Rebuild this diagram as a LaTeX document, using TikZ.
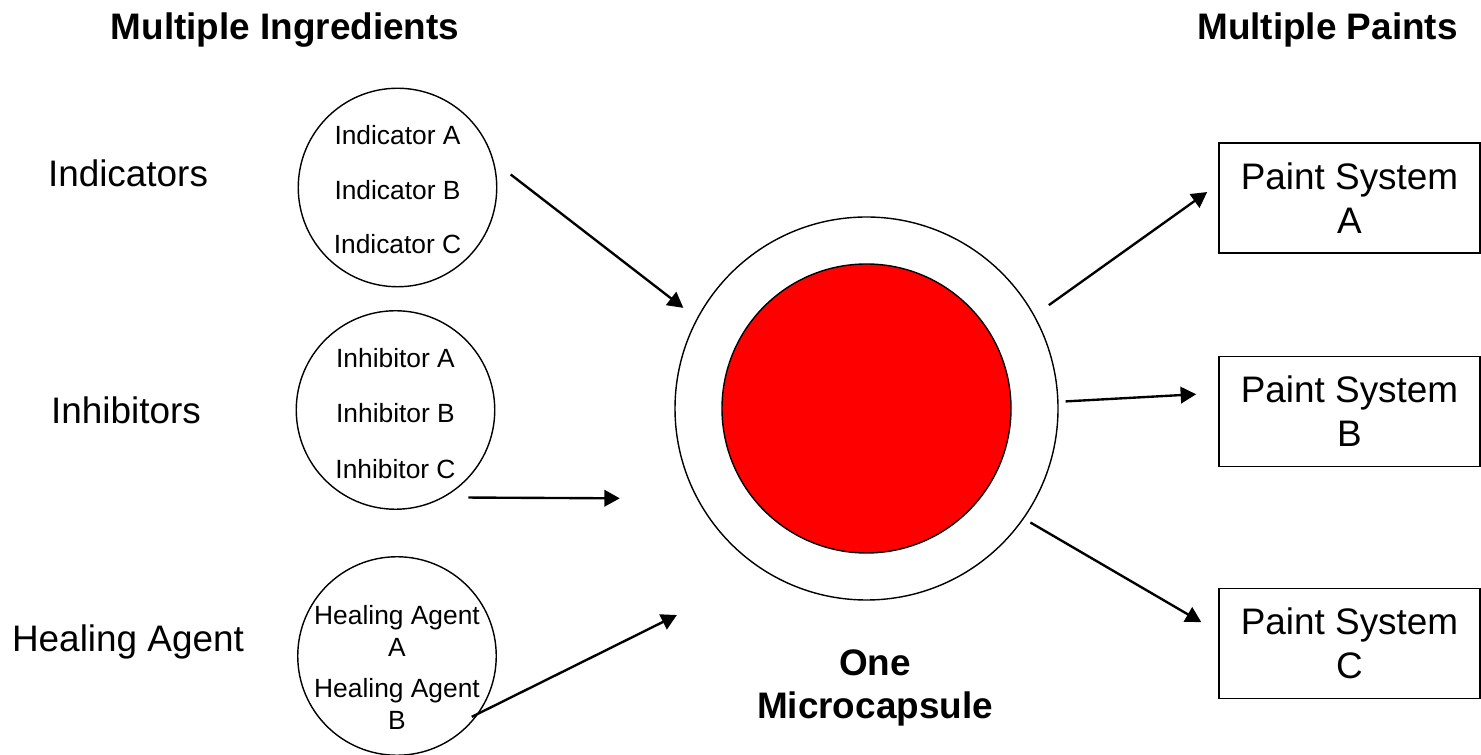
\documentclass[tikz,border=0pt]{standalone}
\usepackage{fontspec}
\setmainfont{Liberation Sans}
\usetikzlibrary{arrows.meta}

\begin{document}
\begin{tikzpicture}[
    ingr/.style={draw, circle, line width=0.8pt, minimum size=3.97cm, inner sep=0pt},
    itemlist/.style={align=center, font=\fontsize{15pt}{18pt}\selectfont},
    paintbox/.style={draw, line width=1pt, minimum width=5.22cm, minimum height=2.2cm, align=center, font=\fontsize{21pt}{25pt}\selectfont},
    grouplabel/.style={anchor=base, font=\fontsize{21pt}{25pt}\selectfont},
    heading/.style={anchor=base, align=center, font=\fontsize{21pt}{24pt}\selectfont\bfseries},
    arrow/.style={line width=1.35pt, -{Triangle[length=0.31cm, width=0.33cm]}}
]
\useasboundingbox (0,0) rectangle (29.62,15.1);

% Títulos
\node[heading] (ingtitle) at (5.70,14.30) {Multiple Ingredients};
\node[heading] (painttitle) at (26.55,14.30) {Multiple Paints};

% Grupos
\node[grouplabel] (indlabel) at (2.56,11.36) {Indicators};
\node[grouplabel] (inhlabel) at (2.52,6.62) {Inhibitors};
\node[grouplabel] (heallabel) at (2.56,2.06) {Healing Agent};

% Círculos de ingredientes
\node[ingr] (ind) at (7.95,11.35) {};
\node[itemlist] (indlist) at ([yshift=-0.05cm]ind.center) {Indicator A\\[13pt]Indicator B\\[13pt]Indicator C};

\node[ingr] (inh) at (7.91,6.90) {};
\node[itemlist] (inhlist) at ([yshift=-0.07cm]inh.center) {Inhibitor A\\[13.5pt]Inhibitor B\\[13.5pt]Inhibitor C};

\node[ingr] (heal) at (7.94,1.98) {};
\node[itemlist] (heallist) at ([yshift=-0.23cm]heal.center) {Healing Agent\\A\\[5.3pt]Healing Agent\\B};

% Microcápsula
\node[circle, draw, line width=0.8pt, minimum size=7.66cm] (cap) at (17.33,6.93) {};
\node[circle, draw, fill=red, line width=0.8pt, minimum size=5.78cm] (core) at (cap) {};
\node[heading, anchor=center] (capname) at (17.5,1.34) {One\\Microcapsule};

% Sistemas de pintura
\node[paintbox] (paintA) at (26.99,11.14) {Paint System\\A};
\node[paintbox] (paintB) at (26.99,6.87) {Paint System\\B};
\node[paintbox] (paintC) at (26.99,2.23) {Paint System\\C};

% Flechas
\draw[arrow, shorten <=0.42cm, shorten >=0.34cm] (ind.15.4) -- (cap.152.7);
\draw[arrow, shorten <=0.49cm, shorten >=1.54cm] (inh.-61.5) -- (cap.-152.4);
\draw[arrow, shorten <=-0.16cm, shorten >=1.96cm] (heal.-35.2) -- (cap.-122.9);
\draw[arrow, shorten <=0.35cm, shorten >=0.27cm] (cap.29.8) -- (paintA.174.05);
\draw[arrow, shorten <=0.14cm, shorten >=0.44cm] (cap.2.4) -- (paintB.172.9);
\draw[arrow, shorten <=0.15cm, shorten >=0.39cm] (cap.-35) -- (paintC.175.4);

\end{tikzpicture}
\end{document}
